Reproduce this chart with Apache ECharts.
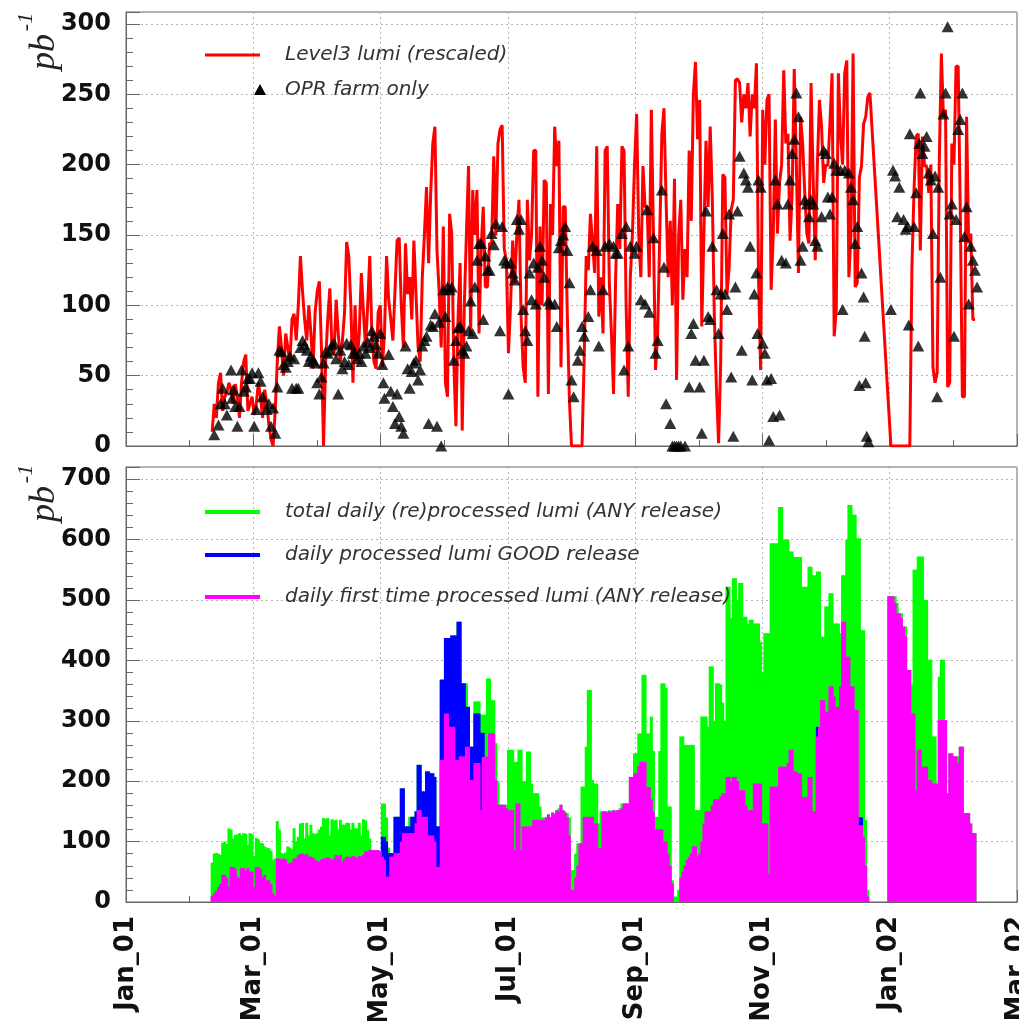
<!DOCTYPE html>
<html><head><meta charset="utf-8">
<script src="https://cdn.jsdelivr.net/npm/echarts@6/dist/echarts.min.js"></script>
<style>html,body{margin:0;padding:0;background:#fff}#c{width:1019px;height:1021px}</style>
</head><body><div id="c"></div>
<script>
// ---------- data ----------
const xTickLabels = ['Jan_01','Mar_01','May_01','Jul_01','Sep_01','Nov_01','Jan_02','Mar_02'];
const AXIS_DAYS = 424;          // Jan_01 .. Mar_02 (day numbers)
const DAY0 = 41;                // first day of the daily arrays

// Level3 lumi (rescaled), one value per day from DAY0; null = no point
const red = [
10,30,20,45,52,25,35,38,45,40,
30,44,35,20,45,60,65,25,30,35,
22,30,45,35,20,40,30,15,5,0,
25,60,85,70,50,80,70,60,90,94,
75,100,135,110,90,75,100,80,55,95,
110,117,70,0,60,90,112,70,65,104,
80,60,75,95,145,135,100,45,100,60,
80,123,95,70,100,135,80,60,55,95,
100,56,80,135,104,90,75,110,146,148,
100,70,144,108,120,90,146,108,70,60,
120,150,184,130,180,215,227,139,110,70,
156,45,35,165,151,60,14,90,130,11,
100,151,199,80,182,150,182,80,140,170,
113,113,144,144,206,150,215,225,228,140,
132,66,100,146,116,151,175,92,56,45,
175,132,150,210,210,35,156,100,189,187,
37,172,150,227,199,217,56,170,170,94,
33,0,0,0,0,0,0,60,135,125,
165,146,123,213,92,120,80,210,213,116,
80,37,120,172,140,213,210,99,35,120,
151,200,236,150,120,199,170,170,120,239,
150,54,80,150,222,240,175,120,160,100,
190,47,150,175,104,140,120,210,160,250,
273,218,246,85,150,217,170,227,177,90,
40,2,60,193,191,108,127,168,175,260,
261,258,230,250,240,258,220,250,240,272,
120,54,239,200,246,250,111,150,232,151,
187,200,267,215,222,146,180,268,200,123,
234,215,180,151,144,258,190,132,200,246,
227,187,200,199,230,265,78,97,265,222,
200,265,274,120,151,279,113,116,191,199,
229,234,248,251,null,null,null,null,null,null,
null,null,null,0,0,0,0,0,0,0,
0,0,0,127,182,220,222,139,220,199,
199,180,200,56,45,52,200,279,234,239,
42,45,215,200,270,270,168,35,35,234,
144,151,90,90
];

// OPR farm only: [day, value]
const opr = [
[42,8],[44,15],[45,30],[46,41],[47,30],[48,22],[50,54],[50.5,34],[51,40],[52,28],[53,14],[54,28],[55,54],[56,39],[57,42],[58,48],[59,48],[60,52],[61,14],[62,26],[63,52],[64,46],[65,35],[67,26],[68,30],[69,14],[70,27],[71,9],[72,42],[73,68],[74,67],[75,58],[76,56],[77,60],[78,64],[79,41],[80,62],[81,41],[82,41],[83,70],[84,75],[85,72],[86,68],[87,60],[88,64],[89,61],[90,59],[91,45],[92,37],[93,49],[94,59],[95,67],[96,66],[97,68],[98,72],[99,73],[100,62],[101,37],[102,68],[103,55],[104,60],[105,73],[106,58],[107,72],[108,66],[109,66],[110,62],[111,66],[112,60],[113,71],[114,66],[115,74],[116,70],[117,82],[118,78],[119,72],[120,66],[121,80],[122,58],[122.5,45],[123,34],[125,65],[126,39],[127,28],[128,16],[129,37],[130,21],[131,14],[132,9],[133,71],[134,55],[135,41],[136,53],[137,59],[138,61],[139,47],[140,54],[141,71],[142,75],[143,78],[144,16],[145,86],[146,85],[147,94],[148,14],[149,88],[150,0],[151,111],[152,92],[153,113],[154,111],[155,113],[156,61],[157,75],[158,84],[159,85],[160,68],[161,66],[162,71],[163,82],[164,103],[165,80],[166,113],[167,132],[168,144],[169,144],[170,90],[171,135],[172,125],[173,125],[174,151],[175,143],[176,158],[178,82],[179,156],[180,132],[181,130],[182,37],[183,130],[184,123],[185,118],[186,161],[187,154],[188,161],[189,97],[190,82],[191,75],[192,123],[193,104],[194,130],[195,101],[196,127],[197,142],[198,132],[199,120],[201,103],[202,101],[204,101],[205,85],[206,141],[207,146],[208,150],[209,156],[210,139],[211,116],[212,47],[213,35],[215,61],[216,68],[217,85],[218,78],[220,92],[221,111],[222,142],[224,139],[225,71],[227,111],[228,142],[230,144],[232,142],[233,137],[234,137],[236,151],[237,54],[238,156],[239,71],[240,142],[242,137],[243,142],[245,104],[247,101],[248,168],[249,95],[251,148],[252,66],[253,75],[255,182],[256,127],[257,30],[259,16],[260,0],[261,0],[262,0],[263,0],[264,0],[266,0],[268,42],[269,80],[270,87],[271,61],[273,42],[274,9],[275,61],[276,167],[277,92],[278,90],[279,142],[281,111],[282,80],[283,108],[284,151],[285,108],[286,97],[287,165],[288,49],[289,7],[290,113],[291,167],[292,206],[293,68],[294,194],[295,189],[296,184],[297,142],[298,47],[299,108],[300,123],[300.5,80],[301,189],[302,184],[303,73],[304,66],[305,47],[306,4],[307,48],[308,21],[309,189],[310,172],[311,22],[312,132],[314,130],[315,172],[316,189],[317,208],[318,218],[319,251],[320,234],[321,132],[322,142],[323,175],[324,172],[325,163],[326,175],[327,172],[328,146],[329,142],[331,163],[332,210],[333,208],[334,177],[335,165],[336,177],[337,201],[338,196],[340,196],[341,97],[342,196],[344,194],[345,184],[346,175],[347,144],[348,156],[349,43],[350,123],[351,106],[351.5,78],[352,45],[352.5,7],[353.3,3],[364,97],[365,196],[366,192],[367,163],[368,184],[370,161],[371,154],[372,156],[372.5,86],[373,222],[375,156],[376,180],[377,71],[377.5,215],[378,251],[379,208],[380,213],[381,220],[382,194],[383,189],[384,151],[385,192],[386,35],[386.5,184],[387.5,120],[389,236],[390,251],[391,298],[392,165],[393,172],[394,78],[395,161],[396,225],[397,232],[398,251],[399,149],[400,170],[401,101],[402,142],[403,132],[404,125],[405,113]
];

// total daily (re)processed lumi (ANY release), per day from DAY0
const green = [
65,80,81,80,78,98,100,96,122,120,
105,111,112,114,110,114,113,95,114,112,
76,106,104,98,97,92,90,89,85,70,
72,134,120,81,80,82,92,90,88,122,
100,108,130,131,105,131,110,128,114,112,
114,120,125,139,137,139,110,137,135,136,
120,136,128,128,131,131,120,131,122,122,
131,110,137,135,120,105,87,85,85,84,
84,163,163,140,90,81,81,141,141,141,
188,188,125,125,141,141,141,150,227,227,
183,183,216,216,213,213,207,125,125,368,
368,437,437,437,441,441,441,464,464,362,
362,362,323,257,257,332,332,332,310,310,
310,370,370,334,334,263,200,161,161,161,
161,252,252,252,232,232,252,252,200,200,
249,249,196,180,180,180,158,140,140,140,
145,140,148,147,152,155,161,152,150,147,
140,53,53,80,97,97,191,191,257,351,
351,202,196,196,130,150,150,150,150,152,
150,152,152,152,155,163,163,163,163,207,
207,246,246,279,279,376,376,279,279,307,
250,141,141,250,362,362,354,158,158,36,
9,9,20,274,274,260,260,260,260,260,
152,152,152,307,307,307,290,390,390,300,
362,362,360,330,300,522,522,470,536,536,
500,528,528,472,472,460,467,467,461,461,
461,430,380,445,445,445,594,594,594,594,
654,654,600,600,600,580,580,571,571,571,
571,522,522,522,555,555,541,541,547,547,
439,439,489,489,511,511,461,461,461,445,
541,541,600,657,657,641,641,602,602,450,
450,136,20,null,null,null,null,null,null,null,
null,null,506,506,506,506,495,478,478,456,
456,384,384,360,550,550,572,572,572,500,
500,401,401,274,274,196,373,401,401,301,
180,246,246,241,241,241,257,257,147,147,
147,130,114,114
];

// daily first time processed lumi (ANY release), per day from DAY0
const magenta = [
10,14,18,25,30,45,45,40,25,58,
58,55,42,40,56,56,52,56,50,50,
25,58,58,55,42,45,36,36,30,14,
10,72,72,70,72,70,64,64,66,72,
72,78,80,80,78,80,75,75,73,70,
67,67,70,72,72,74,72,70,72,78,
76,78,67,72,75,75,74,76,75,73,
76,75,78,84,84,86,85,86,86,86,
84,75,70,42,42,75,75,81,81,81,
100,114,114,114,114,114,114,130,152,152,
141,141,141,110,110,110,100,58,58,235,
235,312,312,290,290,290,235,235,241,241,
241,257,257,202,202,230,230,230,152,240,
241,241,279,279,279,202,161,161,161,161,
155,152,152,152,86,163,163,86,125,125,
125,125,125,136,136,136,136,136,136,140,
145,140,148,145,152,150,161,152,147,140,
110,20,20,40,60,97,97,141,141,141,
141,141,130,130,89,89,150,150,148,150,
150,152,150,152,152,155,163,163,163,207,
207,213,213,225,232,232,232,190,190,170,
150,120,120,120,120,100,100,80,60,30,
0,0,0,40,50,60,70,75,80,92,
92,75,80,100,130,150,150,150,160,170,
170,170,175,180,180,207,207,200,207,207,
200,185,185,185,160,152,152,152,196,196,
196,196,130,130,130,47,191,191,191,191,
224,224,224,224,230,252,252,216,216,213,
213,174,174,174,207,207,150,150,274,290,
334,334,315,315,357,357,340,323,323,357,
464,464,406,406,357,357,318,318,127,127,
108,60,9,null,null,null,null,null,null,null,
null,null,506,506,506,495,478,478,470,456,
440,384,384,312,312,185,252,252,224,224,
224,202,202,196,196,196,301,301,301,301,
180,246,246,241,241,230,257,257,147,147,
147,130,114,114
];

// daily processed lumi GOOD release
const blueDays = [122,123,124,125,126,127,128,129,130,131,132,133,134,135,136,137,138,139,140,141,142,143,144,145,146,147,148,149,150,151,152,153,154,155,156,157,158,159,160,161,162,163,164,165,166,167,168,169,170,329,349,350];
const blueVals = [108,108,100,81,81,81,141,141,141,188,188,125,125,125,141,141,150,227,227,183,183,216,216,213,213,207,125,125,368,368,437,437,437,441,441,441,464,464,362,362,323,323,257,257,312,312,312,280,280,290,140,140];

// ---------- build ----------
const daily = arr => arr.map((v, i) => v == null ? null : [DAY0 + i, v]).filter(Boolean);
const redData = daily(red);
const greenData = daily(green);
const magentaData = daily(magenta);
const blueData = blueDays.map((d, i) => [d, blueVals[i]]);

const XINT = AXIS_DAYS / 7;
const axisCol = '#666';
const gridLine = {show: true, lineStyle: {color: '#b5b5b5', type: [2, 3], width: 1}};

function xAxis(gi, showLabels) {
  return {
    type: 'value', gridIndex: gi, min: 0, max: AXIS_DAYS, interval: XINT,
    axisLine: {show: true, onZero: false, lineStyle: {color: axisCol}},
    axisTick: {show: true, inside: true, length: 12, lineStyle: {color: axisCol}},
    minorTick: {show: true, splitNumber: 2, length: 6, lineStyle: {color: axisCol}},
    splitLine: gridLine,
    axisLabel: showLabels ? {
      show: true, rotate: 90, margin: 14, color: '#111', hideOverlap: false,
      fontFamily: 'DejaVu Sans', fontWeight: 'bold', fontSize: 26,
      formatter: v => {
        const k = Math.round(v / XINT);
        return Math.abs(v - k * XINT) < 0.5 ? xTickLabels[k] : '';
      }
    } : {show: false}
  };
}
function yAxis(gi, max, step) {
  return {
    type: 'value', gridIndex: gi, min: 0, max: max, interval: step,
    axisLine: {show: true, onZero: false, lineStyle: {color: axisCol}},
    axisTick: {show: true, inside: true, length: 14, lineStyle: {color: axisCol}},
    minorTick: {show: true, splitNumber: 5, length: 7, lineStyle: {color: axisCol}},
    splitLine: gridLine,
    axisLabel: {
      show: true, margin: 15, color: '#111',
      fontFamily: 'DejaVu Sans', fontWeight: 'bold', fontSize: 24,
      formatter: v => (Math.abs(v % step) < 1e-6 ? String(v) : '')
    }
  };
}

const legendFont = 'italic 20px "DejaVu Sans"';
function legLine(y, color, w) {
  return {type: 'line', shape: {x1: 205, y1: y, x2: 260, y2: y}, style: {stroke: color, lineWidth: w}, z: 100};
}
function legText(y, txt) {
  return {type: 'text', x: 285, y: y, z: 100,
    style: {text: txt, font: legendFont, fill: '#333', textAlign: 'left', textVerticalAlign: 'middle', align: 'left', verticalAlign: 'middle'}};
}
function unitLabel(cx, cy, sx, sy) {
  return [
    {type: 'text', x: cx, y: cy, rotation: Math.PI / 2, z: 100,
      style: {text: 'pb', font: 'italic 36px "Liberation Serif"', fill: '#222', textAlign: 'center', textVerticalAlign: 'middle', align: 'center', verticalAlign: 'middle'}},
    {type: 'text', x: sx, y: sy, rotation: Math.PI / 2, z: 100,
      style: {text: '-1', font: 'italic 22px "Liberation Serif"', fill: '#222', textAlign: 'center', textVerticalAlign: 'middle', align: 'center', verticalAlign: 'middle'}}
  ];
}

const gridBase = {left: 126, right: 2, show: true, borderColor: axisCol, borderWidth: 1,
  backgroundColor: 'transparent', containLabel: false, outerBoundsMode: 'none'};

const chart = echarts.init(document.getElementById('c'), null, {renderer: 'canvas'});
chart.setOption({
  animation: false,
  backgroundColor: '#fff',
  grid: [
    Object.assign({}, gridBase, {top: 12, height: 434}),
    Object.assign({}, gridBase, {top: 467, height: 435})
  ],
  xAxis: [xAxis(0, false), xAxis(1, true)],
  yAxis: [yAxis(0, 308.5, 50), yAxis(1, 720, 100)],
  series: [
    {name: 'Level3 lumi (rescaled)', type: 'line', xAxisIndex: 0, yAxisIndex: 0, data: redData,
      symbol: 'none', lineStyle: {color: '#ff0000', width: 3}, z: 2},
    {name: 'OPR farm only', type: 'scatter', xAxisIndex: 0, yAxisIndex: 0, data: opr,
      symbol: 'triangle', symbolSize: [12, 11], itemStyle: {color: '#000'}, z: 3},
    {name: 'total daily (re)processed lumi (ANY release)', type: 'bar', xAxisIndex: 1, yAxisIndex: 1, data: greenData,
      barWidth: 3, barGap: '-100%', large: false, itemStyle: {color: '#00ff00'}},
    {name: 'daily processed lumi GOOD release', type: 'bar', xAxisIndex: 1, yAxisIndex: 1, data: blueData,
      barWidth: 3, barGap: '-100%', large: false, itemStyle: {color: '#0000ff'}},
    {name: 'daily first time processed lumi (ANY release)', type: 'bar', xAxisIndex: 1, yAxisIndex: 1, data: magentaData,
      barWidth: 3, barGap: '-100%', large: false, itemStyle: {color: '#ff00ff'}}
  ],
  graphic: [
    legLine(55, '#ff0000', 3), legText(55, 'Level3 lumi (rescaled)'),
    {type: 'polygon', shape: {points: [[260, 84], [254, 95], [266, 95]]}, style: {fill: '#000'}, z: 100},
    legText(90, 'OPR farm only'),
    legLine(512, '#00ff00', 4), legText(512, 'total daily (re)processed lumi (ANY release)'),
    legLine(555, '#0000ff', 4), legText(555, 'daily processed lumi GOOD release'),
    legLine(597, '#ff00ff', 4), legText(597, 'daily first time processed lumi (ANY release)'),
    ...unitLabel(45, 52, 26, 22),
    ...unitLabel(45, 504, 26, 474)
  ]
});
</script>
</body></html>
